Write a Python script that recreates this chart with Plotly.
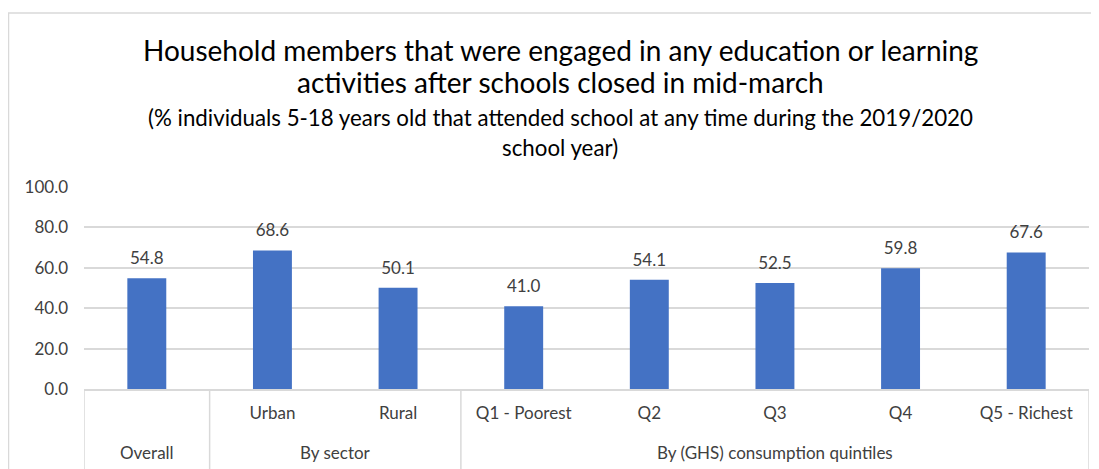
import plotly.graph_objects as go

# ---- data ----
groups = ["Overall", "By sector", "By sector",
          "By (GHS) consumption quintiles", "By (GHS) consumption quintiles",
          "By (GHS) consumption quintiles", "By (GHS) consumption quintiles",
          "By (GHS) consumption quintiles"]
categories = [" ", "Urban", "Rural", "Q1 - Poorest", "Q2", "Q3", "Q4", "Q5 - Richest"]
values = [54.8, 68.6, 50.1, 41.0, 54.1, 52.5, 59.8, 67.6]
y_ticks = [0, 20, 40, 60, 80, 100]

title_lines = ["Household members that were engaged in any education or learning",
               "activities after schools closed in mid-march"]
subtitle_lines = ["(% individuals 5-18 years old that attended school at any time during the 2019/2020",
                  "school year)"]

FONT = "Lato"
GRID = "#D9D9D9"
TXT = "#404040"

# the page body has an 8px margin, so the figure is drawn 8px in from the window corner
OFF = 8
W, H = 1099 - OFF, 469 - OFF
PLOT_L, PLOT_R, PLOT_T, PLOT_B = 84, 1089, 187, 389   # target screen positions
ML = PLOT_L - OFF
MR = W - (PLOT_R - OFF)
MT = PLOT_T - OFF
MB = H - (PLOT_B - OFF)
PW = W - ML - MR
PH = H - MT - MB


def px_to_paper_x(px):
    return (px - OFF - ML) / PW


def px_to_paper_y(py):
    return (H - MB - (py - OFF)) / PH


fig = go.Figure()
fig.add_trace(go.Bar(
    x=categories,
    y=values,
    marker=dict(color="#4472C4", line=dict(width=0)),
    hoverinfo="skip",
))
# data labels
fig.add_trace(go.Scatter(
    x=categories,
    y=values,
    mode="markers+text",
    marker=dict(size=14, opacity=0),
    text=[f"{v:.1f}" for v in values],
    textposition="top center",
    textfont=dict(family=FONT, size=17, color=TXT),
    cliponaxis=False,
    hoverinfo="skip",
))

fig.update_layout(
    width=W, height=H,
    margin=dict(l=ML, r=MR, t=MT, b=MB, autoexpand=False),
    paper_bgcolor="white", plot_bgcolor="white",
    bargap=0.69,
    showlegend=False,
    font=dict(family=FONT, size=17, color=TXT),
)

fig.update_xaxes(
    type="category", range=[-0.5, len(categories) - 0.5],
    showline=True, linecolor=GRID, linewidth=1.5,
    ticks="", tickfont=dict(family=FONT, size=17, color=TXT),
    ticklabelstandoff=8,
    showgrid=False, automargin=False,
)
fig.update_yaxes(
    range=[0, 100], tickvals=y_ticks, tickformat=".1f",
    showgrid=True, gridcolor=GRID, gridwidth=1.5,
    zeroline=False, showline=False,
    tickfont=dict(family=FONT, size=17, color=TXT),
    ticklabelstandoff=15, automargin=False,
)

# group labels and dividers (second level of the category axis)
order = []
for g in groups:
    if g not in order:
        order.append(g)
bounds = [-0.5]
for g in order:
    idx = [i for i, gg in enumerate(groups) if gg == g]
    fig.add_annotation(text=g, x=sum(idx) / len(idx), y=px_to_paper_y(452),
                       xref="x", yref="paper", xanchor="center", yanchor="middle",
                       showarrow=False, font=dict(family=FONT, size=17, color=TXT))
    bounds.append(max(idx) + 0.5)
for b in bounds:
    fig.add_shape(type="line", xref="x", yref="paper", x0=b, x1=b,
                  y0=0, y1=px_to_paper_y(475),
                  line=dict(color=GRID, width=1.5))

# chart border (Excel chart area)
fig.add_shape(type="rect", xref="paper", yref="paper",
              x0=px_to_paper_x(8.5), x1=px_to_paper_x(1115),
              y0=px_to_paper_y(490), y1=px_to_paper_y(13),
              line=dict(color=GRID, width=1.5), fillcolor="rgba(0,0,0,0)", layer="below")

cx = px_to_paper_x(560)
for line, py in zip(title_lines, [50, 82]):
    fig.add_annotation(text=line, x=cx, y=px_to_paper_y(py), xref="paper", yref="paper",
                       xanchor="center", yanchor="middle", showarrow=False,
                       font=dict(family=FONT, size=28, color="#000000"))
for line, py in zip(subtitle_lines, [118, 147]):
    fig.add_annotation(text=line, x=cx, y=px_to_paper_y(py), xref="paper", yref="paper",
                       xanchor="center", yanchor="middle", showarrow=False,
                       font=dict(family=FONT, size=22.3, color="#000000"))

fig.write_html("out.html")
